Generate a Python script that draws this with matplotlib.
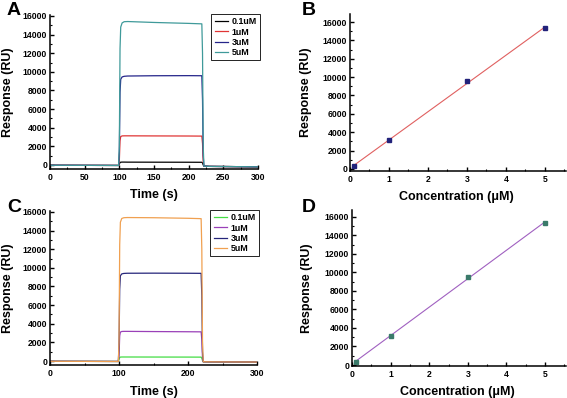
import numpy as np
import matplotlib
matplotlib.use('Agg')
import matplotlib.pyplot as plt
from matplotlib.ticker import MultipleLocator

plt.rcParams['font.family'] = ['Liberation Sans', 'DejaVu Sans']
plt.rcParams['font.weight'] = 'bold'

# 传感图数据 (时间 s, 响应 RU)
t = [0, 50, 99, 100, 101, 102, 104, 107, 112, 150, 200, 219, 220, 221, 222, 230, 260, 300]
labels = ['0.1uM', '1uM', '3uM', '5uM']

a_01 = [-30, -40, -50, 100, 260, 300, 310, 310, 305, 300, 295, 290, 220, 0, -120, -150, -170, -200]
a_1 = [-30, -40, -50, 500, 2600, 3050, 3120, 3130, 3130, 3120, 3110, 3100, 2300, 300, -120, -150, -170, -200]
a_3 = [-30, -40, -50, 1500, 7800, 9200, 9450, 9520, 9550, 9580, 9590, 9580, 7000, 1000, -120, -150, -170, -200]
a_5 = [-30, -40, -50, 2000, 12500, 14800, 15250, 15380, 15400, 15300, 15200, 15150, 12000, 2000, -120, -150, -170, -200]

c_01 = [-30, -40, -50, 150, 380, 420, 430, 430, 430, 425, 420, 415, 300, 50, -80, -90, -100, -110]
c_1 = [-30, -40, -50, 500, 2700, 3100, 3170, 3180, 3180, 3160, 3140, 3130, 2300, 300, -80, -90, -100, -110]
c_3 = [-30, -40, -50, 1500, 7700, 9150, 9350, 9400, 9420, 9430, 9420, 9410, 7000, 1000, -80, -90, -100, -110]
c_5 = [-30, -40, -50, 2000, 12500, 14900, 15300, 15380, 15400, 15380, 15320, 15280, 12000, 2000, -80, -90, -100, -110]

# 浓度-响应数据
conc = [0.1, 1, 3, 5]
b_resp = [300, 3150, 9550, 15300]
d_resp = [350, 3150, 9550, 15350]

colors_a = ['black', '#e03535', '#25258a', '#3f9a9a']
colors_c = ['#44dd44', '#9a40b8', '#25257a', '#f0a050']

fig = plt.figure(figsize=(5.67, 3.98), dpi=100)
axA = fig.add_axes([0.0882, 0.5754, 0.3668, 0.3869])
axB = fig.add_axes([0.6173, 0.5704, 0.3807, 0.3944])
axC = fig.add_axes([0.0882, 0.0829, 0.3651, 0.3869])
axD = fig.add_axes([0.6208, 0.0804, 0.3772, 0.3920])


def style(ax, xmaj, xmin):
    for s in ['top', 'right']:
        ax.spines[s].set_visible(False)
    for s in ['left', 'bottom']:
        ax.spines[s].set_linewidth(1.1)
    ax.xaxis.set_major_locator(MultipleLocator(xmaj))
    ax.xaxis.set_minor_locator(MultipleLocator(xmin))
    ax.yaxis.set_major_locator(MultipleLocator(2000))
    ax.yaxis.set_minor_locator(MultipleLocator(1000))
    ax.tick_params(which='major', direction='in', length=3, width=1, labelsize=6.2, pad=2)
    ax.tick_params(which='minor', direction='in', length=1.6, width=0.8)
    ax.tick_params(axis='x', pad=3)


# A
for y, c, lb in zip([a_01, a_1, a_3, a_5], colors_a, labels):
    axA.plot(t, y, color=c, lw=0.9, label=lb)
axA.set_xlim(0, 300)
axA.set_ylim(-430, 16100)
style(axA, 50, 25)
axA.set_xlabel('Time (s)', fontsize=9, fontweight='bold')
axA.set_ylabel('Response (RU)', fontsize=9, fontweight='bold')
axA.xaxis.set_label_coords(0.5, -0.13)
axA.yaxis.set_label_coords(-0.175, 0.5)

# C
for y, c, lb in zip([c_01, c_1, c_3, c_5], colors_c, labels):
    axC.plot(t, y, color=c, lw=0.9, label=lb)
axC.set_xlim(0, 300)
axC.set_ylim(-430, 16100)
style(axC, 100, 50)
axC.set_xlabel('Time (s)', fontsize=9, fontweight='bold')
axC.set_ylabel('Response (RU)', fontsize=9, fontweight='bold')
axC.xaxis.set_label_coords(0.5, -0.136)
axC.yaxis.set_label_coords(-0.175, 0.5)

for ax in [axA, axC]:
    leg = ax.legend(loc='upper right', bbox_to_anchor=(1.03, 1.035), fontsize=6.4,
                    frameon=True, fancybox=False, framealpha=1, edgecolor='black',
                    handlelength=1.5, labelspacing=0.15, borderpad=0.35, handletextpad=0.4)
    leg.get_frame().set_linewidth(0.6)

# B, D 线性拟合
xfit = np.array([conc[0], conc[-1]])
for ax, resp, lc, mc in [(axB, b_resp, '#e06060', '#22227a'), (axD, d_resp, '#a060c0', '#3a7a6a')]:
    k, b = np.polyfit(conc, resp, 1)
    ax.plot(xfit, k * xfit + b, color=lc, lw=0.8)
    ax.plot(conc, resp, 's', color=mc, ms=3)
    ax.set_xlim(0, 5.54)
    style(ax, 1, 0.5)
    ax.set_xlabel('Concentration (μM)', fontsize=9, fontweight='bold')
    ax.set_ylabel('Response (RU)', fontsize=9, fontweight='bold')
axB.set_ylim(-218, 16870)
axD.set_ylim(-108, 16757)
axB.xaxis.set_label_coords(0.495, -0.127)
axD.xaxis.set_label_coords(0.495, -0.128)
axB.yaxis.set_label_coords(-0.176, 0.5)
axD.yaxis.set_label_coords(-0.18, 0.5)

# 面板字母
for x, y, s in [(0.012, 0.995, 'A'), (0.532, 0.995, 'B'), (0.012, 0.5, 'C'), (0.532, 0.5, 'D')]:
    fig.text(x, y, s, fontsize=14, fontweight='bold', va='top', ha='left')

fig.savefig('out.png', dpi=100)
